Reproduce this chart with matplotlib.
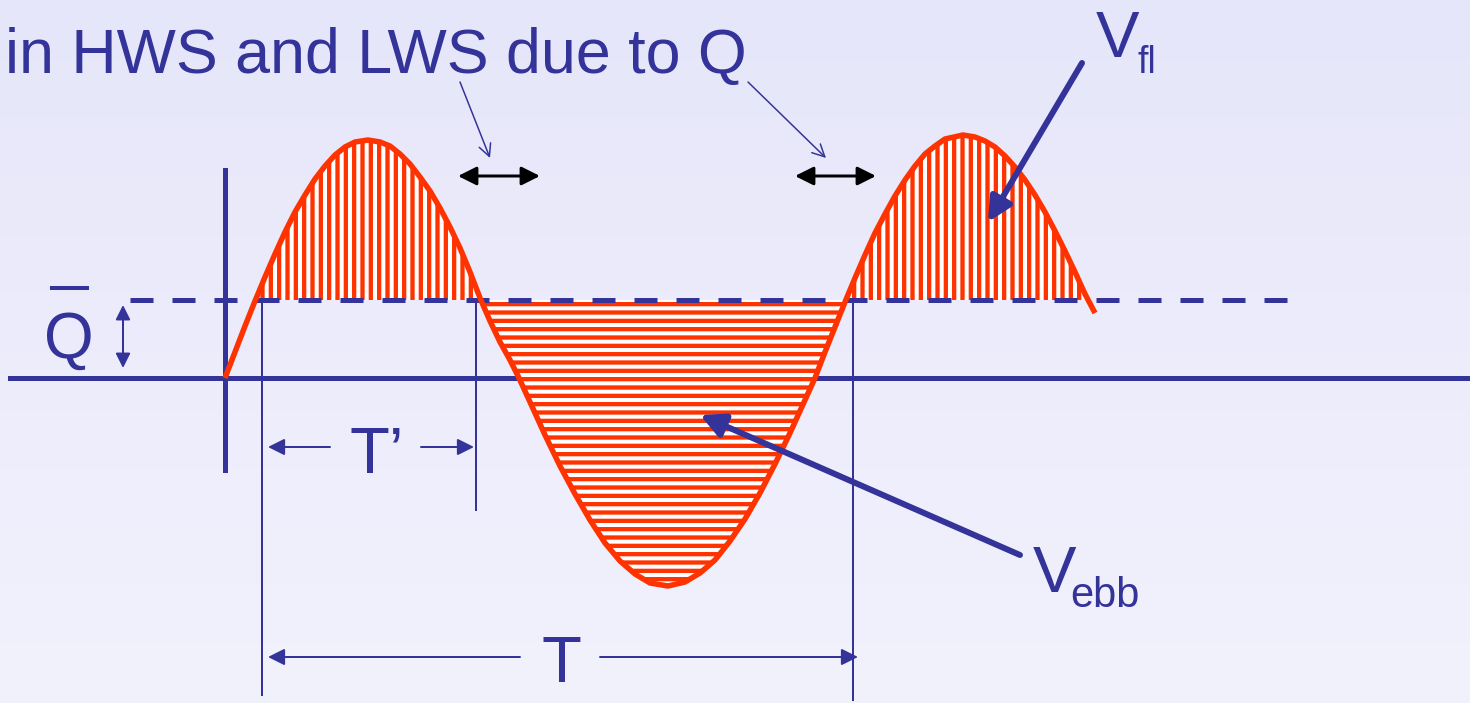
import numpy as np
import matplotlib
matplotlib.use("Agg")
import matplotlib.pyplot as plt

# curve: x position and velocity (zero line = 0)
curve_x = [225, 235, 245, 255, 265, 275, 285, 295, 305, 315, 325, 335, 345, 355,
           368, 380, 390, 400, 410, 420, 430, 440, 450, 460, 470, 480, 490, 500,
           510, 519, 530, 545, 560, 575, 590, 605, 620, 635, 650, 668, 685, 700,
           715, 730, 745, 760, 775, 790, 805, 815, 825, 835, 845, 855, 865, 875,
           885, 895, 905, 915, 925, 935, 945, 963, 975, 985, 995, 1005, 1015,
           1025, 1035, 1045, 1055, 1065, 1075, 1085, 1095]
curve_v = [0, 26, 52, 77, 101, 124, 146, 166, 183, 199, 212, 223, 231, 236,
           238, 236, 232, 224, 214, 201, 187, 170, 151, 130, 106, 80, 57, 36,
           18, 0, -24, -57, -88, -116, -142, -165, -183, -196, -205, -208, -204, -195,
           -182, -163, -141, -115, -86, -55, -22, 0, 26, 51, 76, 100, 123, 145,
           164, 182, 198, 212, 224, 232, 239, 243, 241, 237, 231, 222, 211,
           198, 183, 166, 147, 127, 106, 84, 65]
q_bar = 78

title = "in HWS and LWS due to Q"
navy = "#333399"
red = "#FF3300"

PT = 0.72  # points per pixel at dpi 100
plt.rcParams["hatch.linewidth"] = 4.3 * PT
plt.rcParams["lines.scale_dashes"] = False
plt.rcParams["font.family"] = ["Liberation Sans", "DejaVu Sans"]

fig = plt.figure(figsize=(14.7, 7.03), dpi=100)
ax = fig.add_axes([0, 0, 1, 1])
ax.set_xlim(0, 1470)
ax.set_ylim(378 - 703, 378)
ax.axis("off")

# background gradient
grad = np.linspace(0, 1, 256)[:, None]
top = np.array([230, 230, 250]) / 255
bot = np.array([242, 242, 253]) / 255
img = top[None, None, :] * (1 - grad[..., None]) + bot[None, None, :] * grad[..., None]
ax.imshow(img, extent=[0, 1470, 378 - 703, 378], aspect="auto", zorder=0)

x = np.array(curve_x, dtype=float)
v = np.array(curve_v, dtype=float)

# zero line sits under the shaded areas
ax.plot([10, 1470], [0, 0], color=navy, lw=5 * PT, zorder=1)

# flood areas (vertical stripes) and ebb area (horizontal stripes)
above = v >= q_bar
below = (v <= q_bar) & (x > 400) & (x < 900)
ax.fill_between(x, v, q_bar, where=(above & (x < 600)), interpolate=True,
                facecolor="white", edgecolor=red, hatch="||", linewidth=0, zorder=2)
ax.fill_between(x, v, q_bar, where=(above & (x > 600)), interpolate=True,
                facecolor="white", edgecolor=red, hatch="||", linewidth=0, zorder=2)
ax.fill_between(x, v, q_bar, where=below, interpolate=True,
                facecolor="white", edgecolor=red, hatch="--", linewidth=0, zorder=2)

ax.plot([225, 225], [378 - 170, 378 - 470], color=navy, lw=5 * PT, zorder=3)
ax.plot([130, 1290], [q_bar, q_bar], color=navy, lw=5 * PT,
        dashes=(23 * PT, 19 * PT), zorder=4)

# tide curve
ax.plot(x, v, color=red, lw=5.5 * PT, zorder=5, solid_capstyle="butt")

# period guide lines
for gx, gy in [(262, 695), (476, 510), (853, 700)]:
    ax.plot([gx, gx], [q_bar - 3, 378 - gy], color=navy, lw=2 * PT, zorder=3)


def arrow(x0, y0, x1, y1, color=navy, lw=2, style="-|>", scale=25):
    ax.annotate("", xy=(x1, 378 - y1), xytext=(x0, 378 - y0),
                arrowprops=dict(arrowstyle=style, color=color, lw=lw * PT,
                                mutation_scale=scale, shrinkA=0, shrinkB=0),
                zorder=6)


# T' and T dimension arrows
arrow(330, 447, 268, 447)
arrow(421, 447, 474, 447)
arrow(520, 657, 268, 657)
arrow(600, 657, 858, 657)
ax.text(377, 378 - 473, "T\u2019", color=navy, fontsize=47, ha="center", va="baseline")
ax.text(561, 378 - 682, "T", color=navy, fontsize=47, ha="center", va="baseline")

# Q bar label
ax.text(69, 378 - 358, "Q", color=navy, fontsize=46, ha="center", va="baseline")
ax.plot([52, 87], [378 - 288, 378 - 288], color=navy, lw=4 * PT, zorder=6)
arrow(123, 305, 123, 368, style="<|-|>", scale=22)

# title
ax.text(5, 378 - 73, title, color=navy, fontsize=45.2, ha="left", va="baseline")
arrow(460, 82, 490, 158, style="->", lw=1.5, scale=22)
arrow(748, 82, 826, 158, style="->", lw=1.5, scale=22)

# HWS / LWS shift arrows
arrow(458, 176, 540, 176, color="black", lw=3, style="<|-|>", scale=28)
arrow(795, 176, 876, 176, color="black", lw=3, style="<|-|>", scale=28)

# volume labels
ax.text(1096, 378 - 57, "V", color=navy, fontsize=47, ha="left", va="baseline")
ax.text(1138, 378 - 73, "fl", color=navy, fontsize=27, ha="left", va="baseline")
arrow(1082, 63, 988, 222, lw=6, style="-|>", scale=36)
ax.text(1033, 378 - 592, "V", color=navy, fontsize=47, ha="left", va="baseline")
ax.text(1070, 378 - 607, "ebb", color=navy, fontsize=30, ha="left", va="baseline")
arrow(1020, 555, 700, 415, lw=6, style="-|>", scale=36)

fig.savefig("out.png", dpi=100)
